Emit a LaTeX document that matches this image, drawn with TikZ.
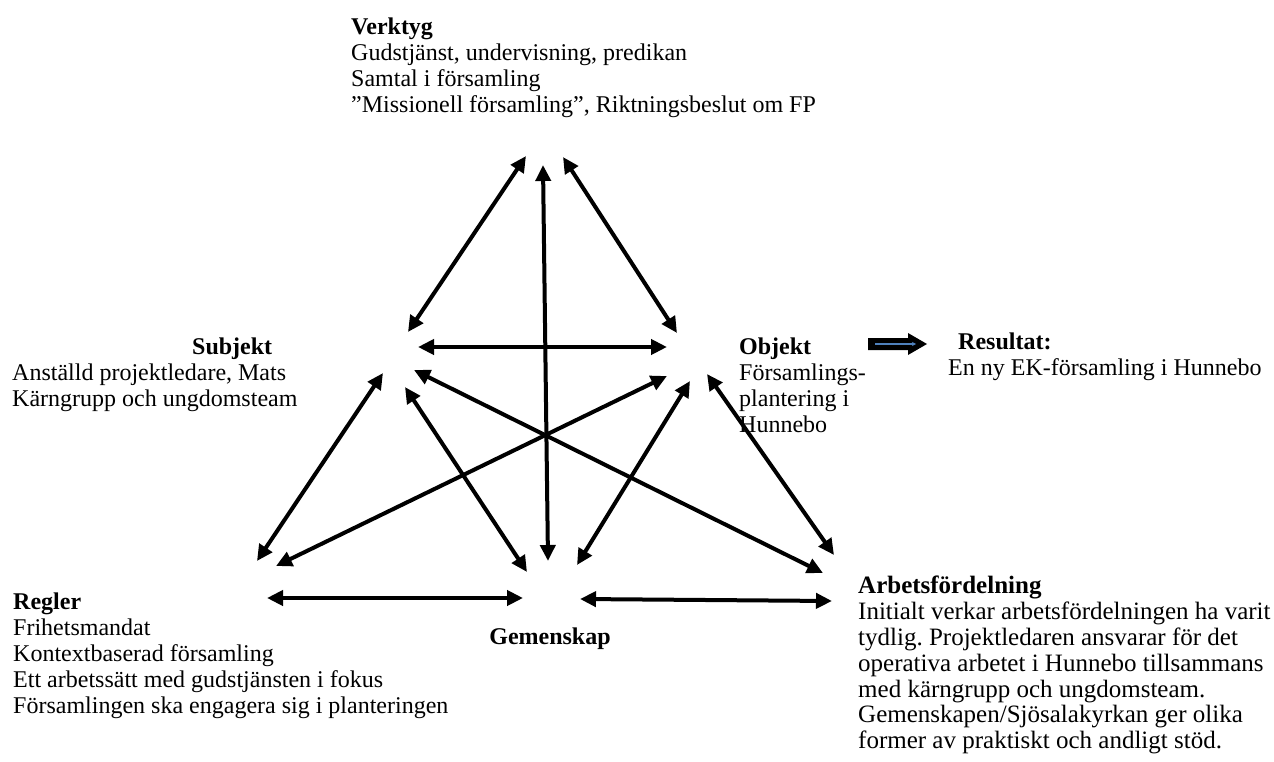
\documentclass[tikz,border=0pt]{standalone}
\usepackage{fontspec}
\setmainfont{Liberation Serif}
\usetikzlibrary{arrows.meta}
\begin{document}
\frenchspacing
\begin{tikzpicture}[x=1pt,y=-1pt,
  txt/.style={inner sep=0pt, anchor=north west, align=left, font=\fontsize{24}{26}\selectfont},
  bigtxt/.style={txt, font=\fontsize{25}{25.8}\selectfont},
  dbl/.style={line width=4pt, {Triangle[length=16pt,width=15pt]}-{Triangle[length=16pt,width=15pt]}},
  blockarrow/.style={fill=black, draw=none},
  innerline/.style={draw={rgb,255:red,79;green,129;blue,189}, line width=1.2pt, -{Stealth[length=4pt,width=4pt]}}
]
\useasboundingbox (0,0) rectangle (1274,762);

% texts
\node[txt] (verktyg) at (351,17.8) {\textbf{Verktyg}\\Gudstjänst, undervisning, predikan\\Samtal i församling\\”Missionell församling”, Riktningsbeslut om FP};
\node[txt] (subjekthead) at (192,337.8) {\textbf{Subjekt}};
\node[txt] (subjekt) at (12,363.6) {Anställd projektledare, Mats\\Kärngrupp och ungdomsteam};
\node[txt] (objekt) at (739,337.8) {\textbf{Objekt}\\Församlings-\\plantering i\\Hunnebo};
\node[txt] (resultathead) at (958,332.8) {\textbf{Resultat:}};
\node[txt] (resultat) at (948,358.6) {En ny EK-församling i Hunnebo};
\node[txt] (regler) at (13,592.8) {\textbf{Regler}\\Frihetsmandat\\Kontextbaserad församling\\Ett arbetssätt med gudstjänsten i fokus\\Församlingen ska engagera sig i planteringen};
\node[txt, anchor=north] (gemenskap) at (550,627.8) {\textbf{Gemenskap}};
\node[bigtxt] (arbets) at (858,576.1) {\textbf{Arbetsfördelning}\\Initialt verkar arbetsfördelningen ha varit\\tydlig. Projektledaren ansvarar för det\\operativa arbetet i Hunnebo tillsammans\\med kärngrupp och ungdomsteam.\\Gemenskapen/Sjösalakyrkan ger olika\\former av praktiskt och andligt stöd.};

% arrow end points
\coordinate (vs) at (526,156);  \coordinate (sv) at (408,332);
\coordinate (vg) at (543,165);  \coordinate (gv) at (548,561);
\coordinate (vo) at (563,157);  \coordinate (ov) at (677,333);
\coordinate (so) at (418,347);  \coordinate (os) at (667,347);
\coordinate (sr) at (383,373);  \coordinate (rs) at (257,561);
\coordinate (sg) at (405,387);  \coordinate (gs) at (527,572);
\coordinate (sa) at (414,370);  \coordinate (as) at (823,573);
\coordinate (or) at (667,376);  \coordinate (ro) at (276,566);
\coordinate (og) at (690,381);  \coordinate (go) at (577,565);
\coordinate (oa) at (707,374);  \coordinate (ao) at (834,555);
\coordinate (rg) at (267,598);  \coordinate (gr) at (523,598);
\coordinate (ga) at (580,599);  \coordinate (ag) at (832,601);

\draw[dbl] (vs) -- (sv);
\draw[dbl] (vg) -- (gv);
\draw[dbl] (vo) -- (ov);
\draw[dbl] (so) -- (os);
\draw[dbl] (sr) -- (rs);
\draw[dbl] (sg) -- (gs);
\draw[dbl] (sa) -- (as);
\draw[dbl] (or) -- (ro);
\draw[dbl] (og) -- (go);
\draw[dbl] (oa) -- (ao);
\draw[dbl] (rg) -- (gr);
\draw[dbl] (ga) -- (ag);

% result arrow
\coordinate (b1) at (868,338);
\coordinate (b2) at (908,338);
\coordinate (b3) at (908,333);
\coordinate (b4) at (927,344);
\coordinate (b5) at (908,355);
\coordinate (b6) at (908,350);
\coordinate (b7) at (868,350);
\fill[blockarrow] (b1) -- (b2) -- (b3) -- (b4) -- (b5) -- (b6) -- (b7) -- cycle;
\coordinate (l1) at (875,344);
\coordinate (l2) at (916,344);
\draw[innerline] (l1) -- (l2);
\end{tikzpicture}
\end{document}
